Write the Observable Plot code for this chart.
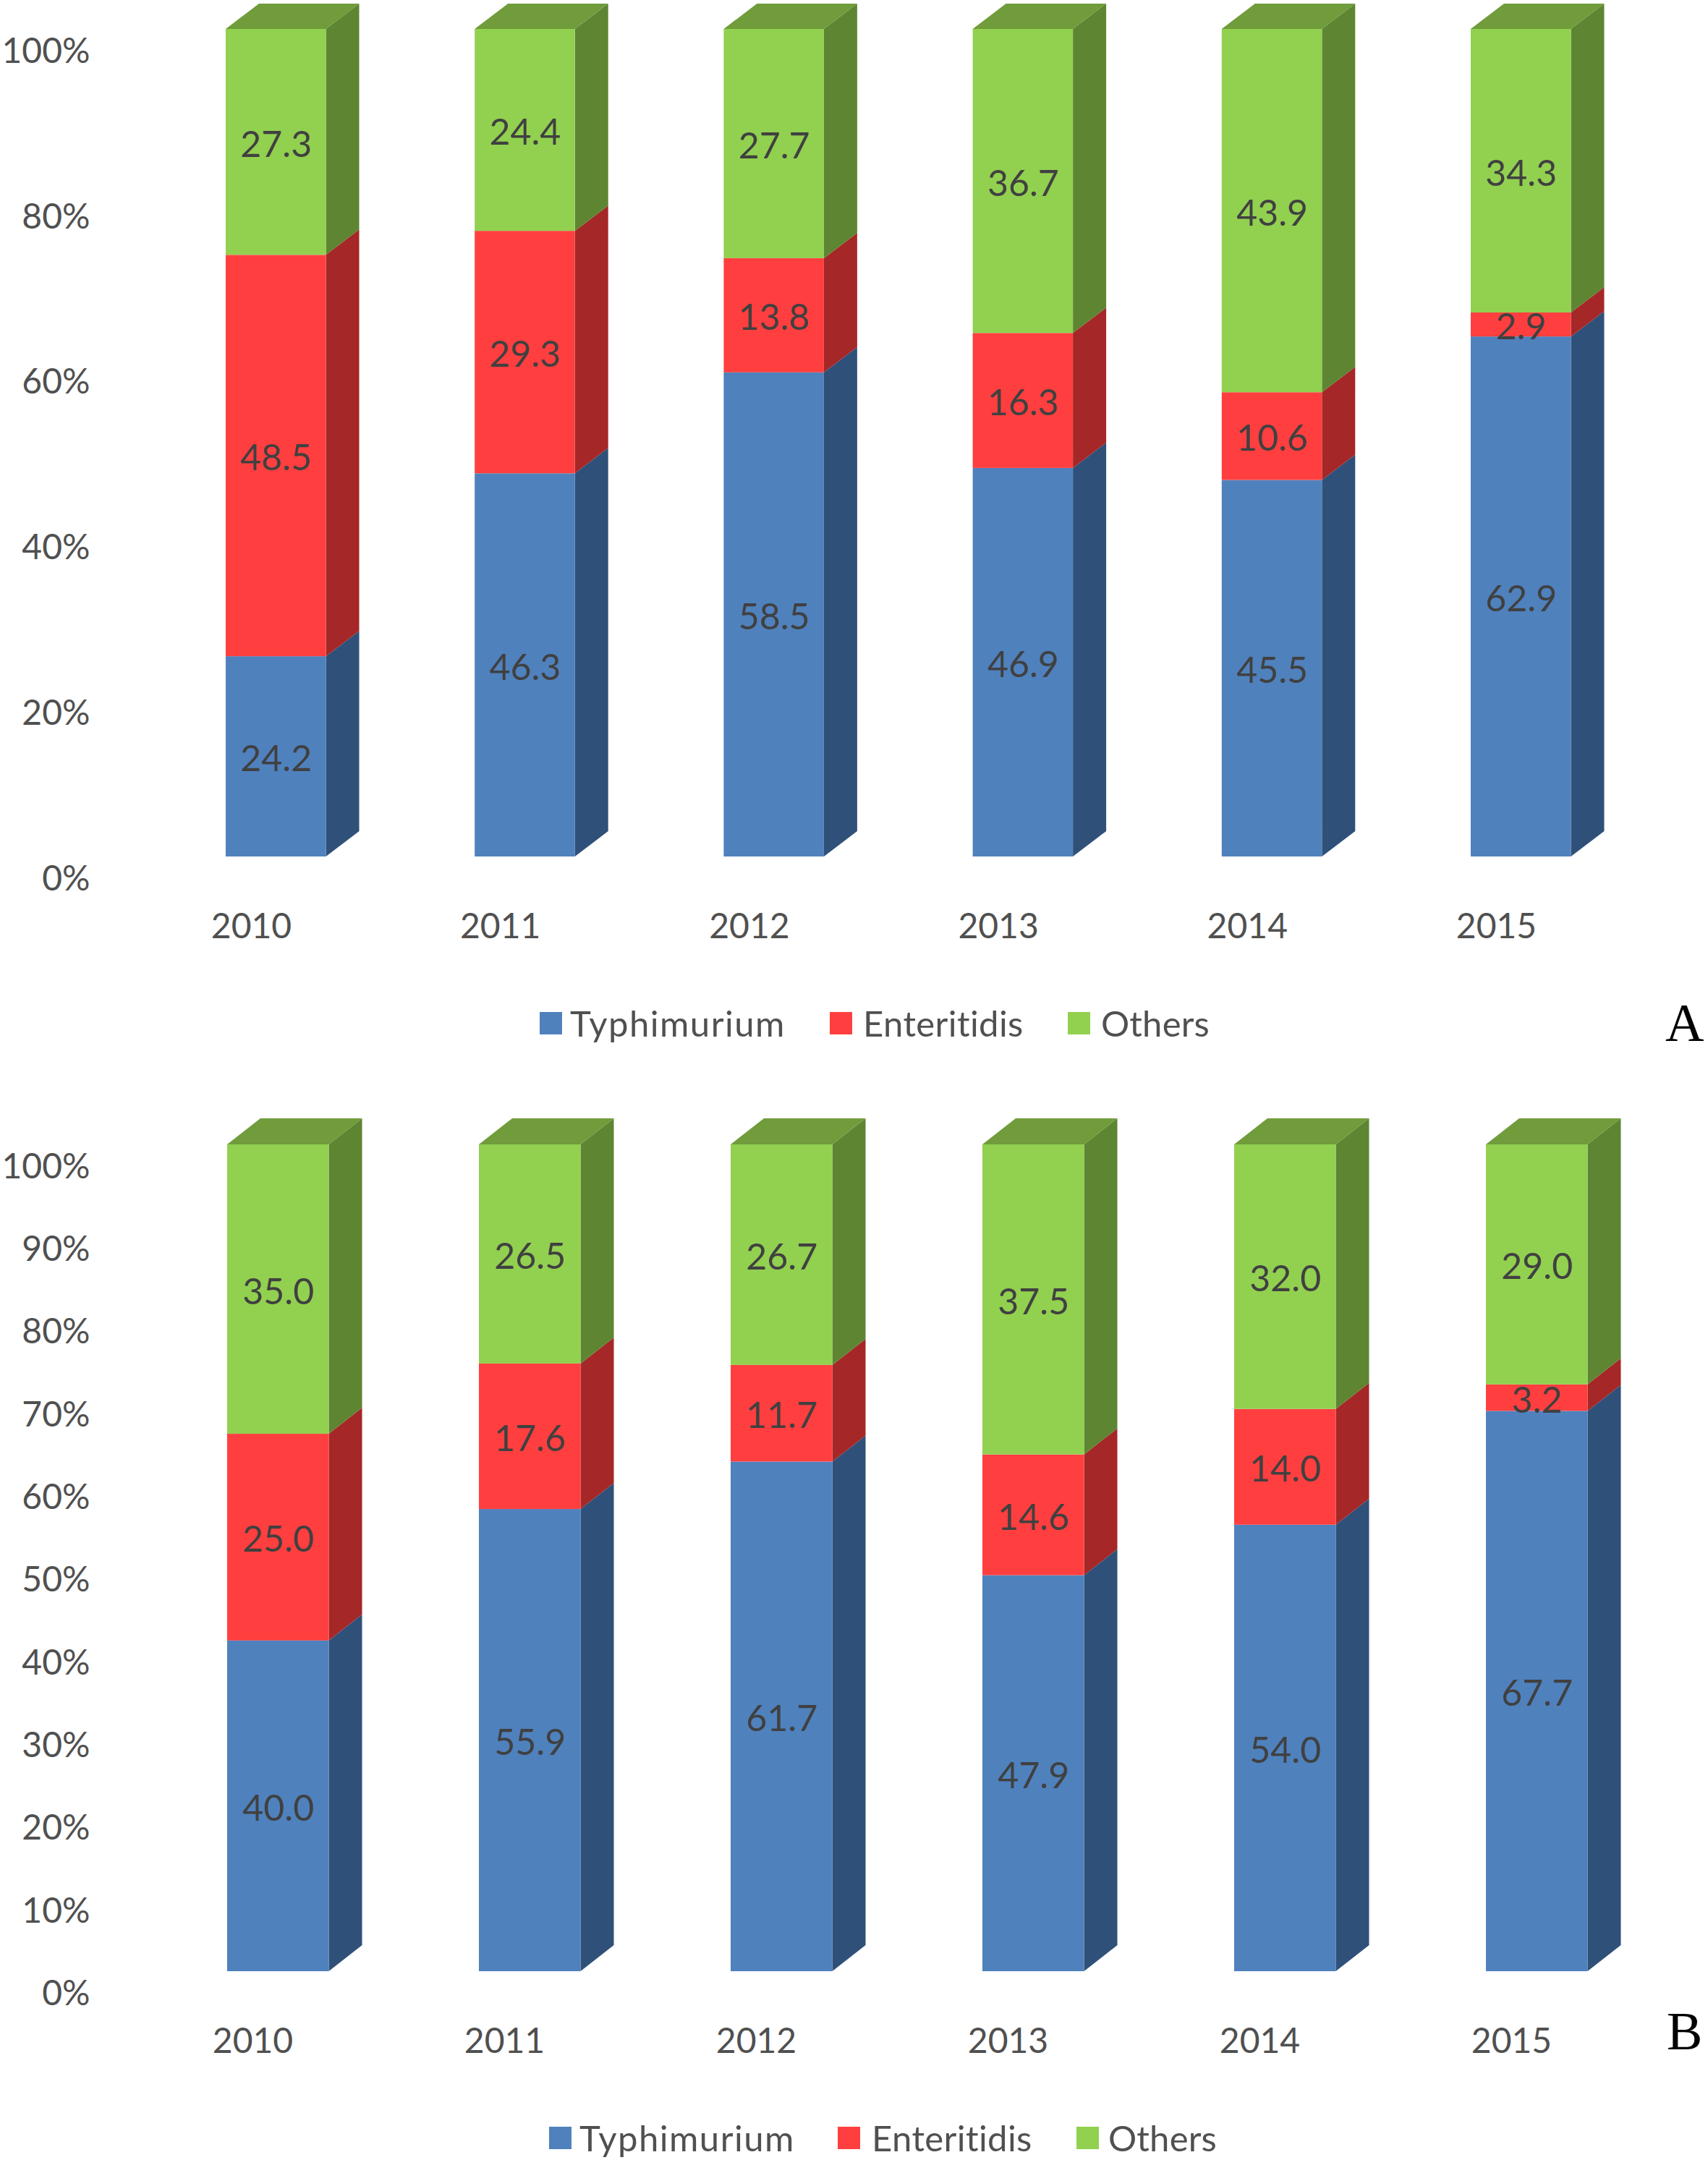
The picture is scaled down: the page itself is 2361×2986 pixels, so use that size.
<!DOCTYPE html>
<html>
<head>
<meta charset="utf-8">
<script src="https://cdn.jsdelivr.net/npm/d3@7"></script>
<script src="https://cdn.jsdelivr.net/npm/@observablehq/plot@0.6"></script>
<style>
  html, body { margin: 0; padding: 0; background: #fff; }
  #root { width: 2361px; font-family: Lato, sans-serif; }
  .band { position: relative; width: 2361px; }
  .sw { position: absolute; width: 31px; height: 31px; }
  .lt { position: absolute; color: #505050; font-size: 49px; line-height: 1; white-space: nowrap; }
  .tag { position: absolute; font-family: "Liberation Serif", serif; font-size: 74px; line-height: 1; color: #000; }
  svg { display: block; }
</style>
</head>
<body>
<div id="root"></div>
<script>
const years = ["2010", "2011", "2012", "2013", "2014", "2015"];
const series = ["Typhimurium", "Enteritidis", "Others"];

const typhimuriumA = [24.2, 46.3, 58.5, 46.9, 45.5, 62.9];
const enteritidisA = [48.5, 29.3, 13.8, 16.3, 10.6, 2.9];
const othersA = [27.3, 24.4, 27.7, 36.7, 43.9, 34.3];

const typhimuriumB = [40.0, 55.9, 61.7, 47.9, 54.0, 67.7];
const enteritidisB = [25.0, 17.6, 11.7, 14.6, 14.0, 3.2];
const othersB = [35.0, 26.5, 26.7, 37.5, 32.0, 29.0];

const ticksA = [0, 20, 40, 60, 80, 100];
const ticksB = [0, 10, 20, 30, 40, 50, 60, 70, 80, 90, 100];

const front = {Typhimurium: "#4F81BD", Enteritidis: "#FF3F3F", Others: "#92D050"};
const side = {Typhimurium: "#2F5179", Enteritidis: "#A52727", Others: "#5E8532"};
const spacing = {Typhimurium: 1.5, Enteritidis: 0.4, Others: 0.2};
const topFace = "#709C3B";
const fmt = d3.format(".1f");

function panel({values, ticks, height, marginBottom, yRange, xStart, step, barW, depthX, depthY}) {
  const wU = barW / step, dU = depthX / step, dyU = depthY / (yRange[0] - yRange[1]) * 100;
  const segs = [];
  years.forEach((year, i) => {
    const total = d3.sum(values, v => v[i]);
    let acc = 0;
    series.forEach((s, k) => {
      const v = values[k][i];
      const y1 = acc / total * 100, y2 = (acc + v) / total * 100;
      acc += v;
      segs.push({year, i, s, v, y1, y2, x1: i, x2: i + wU});
    });
  });
  const sideRows = segs.flatMap(d => [
    {s: d.s, z: d.year + d.s, x: d.x2, y1: d.y1, y2: d.y2},
    {s: d.s, z: d.year + d.s, x: d.x2 + dU, y1: d.y1 + dyU, y2: d.y2 + dyU}
  ]);
  const topRows = years.flatMap((year, i) => [
    {z: year, y: 100, x1: i, x2: i + wU},
    {z: year, y: 100 + dyU, x1: i + dU, x2: i + wU + dU}
  ]);
  return Plot.plot({
    width: 2361,
    height,
    marginLeft: 124,
    marginRight: 0,
    marginTop: 0,
    marginBottom,
    x: {type: "linear", domain: [0, 1], range: [xStart, xStart + step]},
    y: {domain: [0, 100], range: yRange},
    color: {domain: series, range: series.map(s => front[s])},
    marks: [
      ...series.map(s => Plot.area(sideRows.filter(d => d.s === s), {
        x1: "x", x2: "x", y1: "y1", y2: "y2", z: "z", fill: side[s]
      })),
      Plot.area(topRows, {x1: "x1", x2: "x2", y1: "y", y2: "y", z: "z", fill: topFace}),
      Plot.rect(segs, {x1: "x1", x2: "x2", y1: "y1", y2: "y2", fill: "s"}),
      Plot.text(segs, {
        x: d => d.i + wU / 2, y: d => (d.y1 + d.y2) / 2, text: d => fmt(d.v), dy: 4,
        fill: "#404040", fontSize: 50, fontFamily: "Lato, sans-serif"
      }),
      Plot.axisY({
        ticks, tickSize: 0, tickPadding: 0, dy: 31, label: null,
        tickFormat: d => d + "%", fontSize: 48, fontFamily: "Lato, sans-serif", color: "#505050"
      }),
      Plot.axisX({
        ticks: years.map((y, i) => i), tickSize: 0, tickPadding: 0, label: null, dx: 35,
        tickFormat: i => years[i], fontSize: 48, fontFamily: "Lato, sans-serif", color: "#505050",
        anchor: "bottom", lineAnchor: "middle"
      })
    ]
  });
}

function band(height, swatchX, textX, y, tag, tagX, tagY) {
  const el = document.createElement("div");
  el.className = "band";
  el.style.height = height + "px";
  series.forEach((s, k) => {
    const sw = document.createElement("div");
    sw.className = "sw";
    sw.style.cssText = `left:${swatchX[k]}px;top:${y}px;background:${front[s]}`;
    const t = document.createElement("div");
    t.className = "lt";
    t.textContent = s;
    t.style.cssText = `left:${textX[k]}px;top:${y - 9}px;letter-spacing:${spacing[s]}px`;
    el.append(sw, t);
  });
  const l = document.createElement("div");
  l.className = "tag";
  l.textContent = tag;
  l.style.cssText = `left:${tagX}px;top:${tagY}px`;
  el.append(l);
  return el;
}

const root = document.getElementById("root");
root.append(
  panel({
    values: [typhimuriumA, enteritidisA, othersA], ticks: ticksA,
    height: 1380, marginBottom: 99, yRange: [1184, 40],
    xStart: 312, step: 344.2, barW: 138.5, depthX: 46, depthY: 35
  }),
  band(70, [746, 1147, 1476], [788, 1193, 1522], 19, "A", 2302, -3),
  panel({
    values: [typhimuriumB, enteritidisB, othersB], ticks: ticksB,
    height: 1480, marginBottom: 108, yRange: [1275, 132],
    xStart: 314, step: 348, barW: 140.5, depthX: 46, depthY: 36
  }),
  band(56, [759, 1158, 1488], [801, 1205, 1532], 10, "B", 2304, -159)
);
</script>
</body>
</html>
